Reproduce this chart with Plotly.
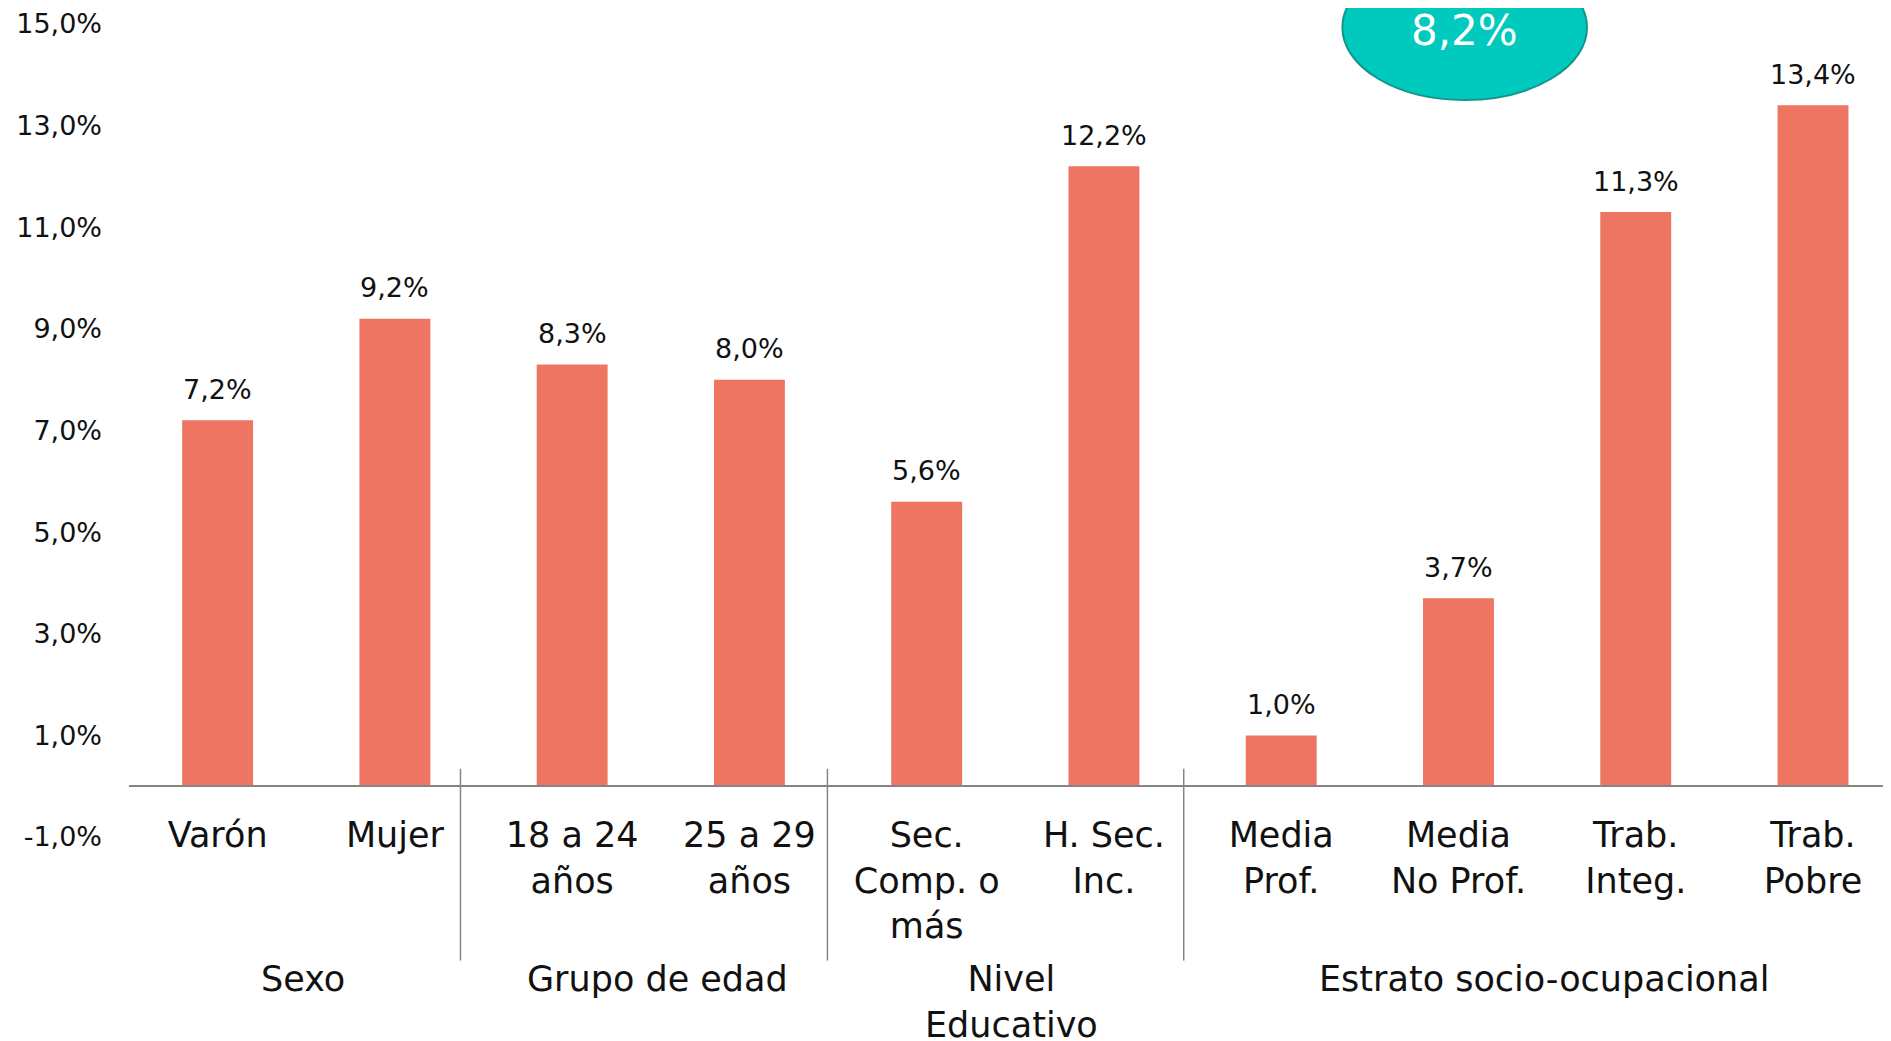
"""Bar chart: percentage by socio-demographic group, with grouped category axis."""

import plotly.graph_objects as go

categories = [
    "Varón", "Mujer",
    "18 a 24<br>años", "25 a 29<br>años",
    "Sec.<br>Comp. o<br>más", "H. Sec.<br>Inc.",
    "Media<br>Prof.", "Media<br>No Prof.", "Trab.<br>Integ.", "Trab.<br>Pobre",
]
values = [7.2, 9.2, 8.3, 8.0, 5.6, 12.2, 1.0, 3.7, 11.3, 13.4]
groups = ["Sexo", "Grupo de edad", "Nivel<br>Educativo", "Estrato socio-ocupacional"]
group_sizes = [2, 2, 2, 4]
total_value = 8.2
y_ticks = [-1, 1, 3, 5, 7, 9, 11, 13, 15]

FONT = "DejaVu Sans"
BAR = "#EE7561"
GRAY = "#858585"
INK = "#111111"


def pct(v):
    return f"{v:.1f}%".replace(".", ",")


xs = list(range(len(categories)))

fig = go.Figure()
fig.add_bar(x=xs, y=values, width=0.4, marker_color=BAR, marker_line_width=0,
            hoverinfo="skip")

# value labels above the bars
for x, v in zip(xs, values):
    fig.add_annotation(x=x, y=v, text=pct(v), showarrow=False, yshift=31,
                       yanchor="middle",
                       font=dict(family=FONT, size=27, color=INK))

# group labels and separators
start = 0
seps = [1.37, 3.44, 5.45]
for g, n in zip(groups, group_sizes):
    center = start + (n - 1) / 2 - 0.02
    fig.add_annotation(x=center, y=-0.147, yref="paper", text=g, showarrow=False,
                       yanchor="top", font=dict(family=FONT, size=35, color=INK))
    start += n
for s in seps:
    fig.add_shape(type="line", xref="x", yref="paper", x0=s, x1=s, y0=0.084, y1=-0.152,
                  line=dict(color=GRAY, width=1.5))

# overall value bubble
fig.add_shape(type="circle", xref="x", yref="paper", x0=7.035 - 0.69, x1=7.035 + 0.69,
              y0=0.9065, y1=1.085, fillcolor="#00C9BD", line=dict(color="#12968C", width=2),
              layer="above")
fig.add_annotation(x=7.035, y=0.992, yref="paper", text=pct(total_value), showarrow=False,
                   yanchor="middle",
                   font=dict(family=FONT, size=42, color="white"))

fig.update_layout(
    width=1883, height=1033,
    margin=dict(l=121, r=0, t=16, b=204),
    plot_bgcolor="white", paper_bgcolor="white",
    showlegend=False,
    font=dict(family=FONT, color=INK),
    xaxis=dict(
        range=[-0.5, 9.44], tickvals=xs, ticktext=categories,
        anchor="free", position=1 / 16,
        showline=True, linecolor=GRAY, linewidth=2,
        showgrid=False, zeroline=False, ticks="",
        ticklabelstandoff=18,
        tickfont=dict(family=FONT, size=35, color=INK),
    ),
    yaxis=dict(
        range=[-1, 15], tickvals=y_ticks, ticktext=[pct(t) for t in y_ticks],
        showgrid=False, zeroline=False, showline=False, ticks="",
        ticklabelstandoff=26,
        tickfont=dict(family=FONT, size=27, color=INK),
    ),
)

fig.write_html("out.html")
